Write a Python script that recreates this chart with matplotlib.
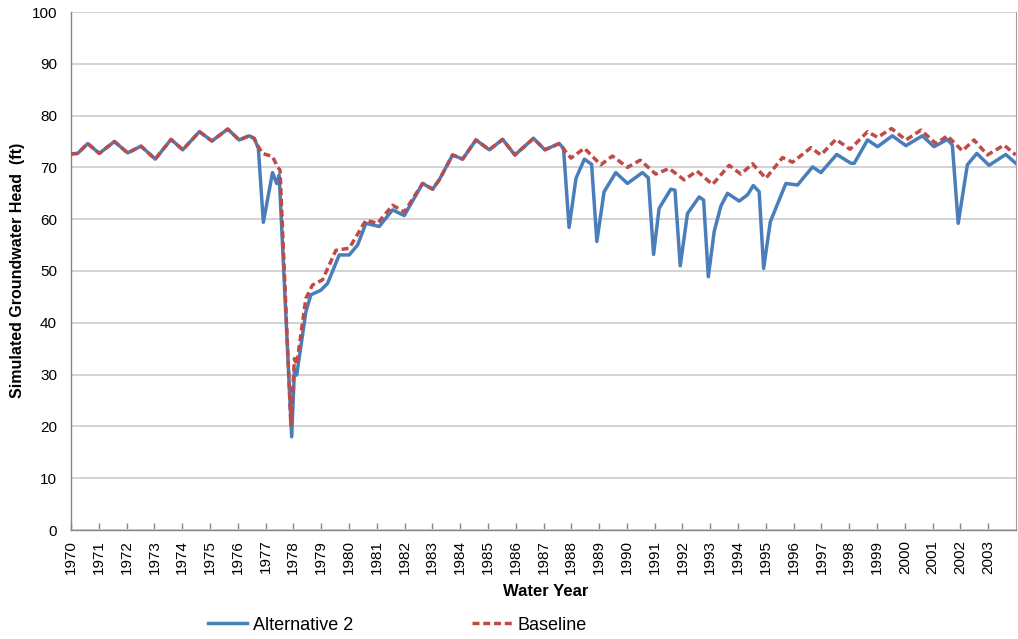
"""
Simulated groundwater head, Alternative 2 vs Baseline
"""

import matplotlib
matplotlib.use("Agg")
from matplotlib import pyplot as plt

# --- data (decimal water year, head in ft) ---
alt2_year = [
    1970.00, 1970.24, 1970.60, 1971.02, 1971.56, 1972.04, 1972.52, 1973.03,
    1973.60, 1974.02, 1974.62, 1975.07, 1975.64, 1976.05, 1976.41, 1976.59,
    1976.74, 1976.92, 1977.25, 1977.40, 1977.49, 1977.94, 1978.04, 1978.12,
    1978.45, 1978.63, 1978.99, 1979.23, 1979.65, 1980.01, 1980.31, 1980.61,
    1981.09, 1981.57, 1981.99, 1982.65, 1983.01, 1983.25, 1983.73, 1984.09,
    1984.57, 1985.05, 1985.53, 1985.97, 1986.64, 1987.05, 1987.56, 1987.72,
    1987.92, 1988.17, 1988.47, 1988.73, 1988.92, 1989.18, 1989.60, 1990.02,
    1990.56, 1990.77, 1990.96, 1991.16, 1991.58, 1991.73, 1991.92, 1992.18,
    1992.60, 1992.76, 1992.93, 1993.14, 1993.38, 1993.62, 1994.04, 1994.34,
    1994.55, 1994.76, 1994.92, 1995.16, 1995.72, 1996.14, 1996.68, 1996.98,
    1997.55, 1998.06, 1998.18, 1998.66, 1999.02, 1999.55, 2000.04, 2000.63,
    2001.05, 2001.53, 2001.71, 2001.92, 2002.25, 2002.59, 2003.03, 2003.63,
    2003.99]
alt2_head = [
    72.6, 72.7, 74.6, 72.7, 75.0, 72.8, 74.1, 71.6,
    75.4, 73.4, 76.9, 75.1, 77.4, 75.3, 76.1, 75.6,
    73.7, 59.4, 69.0, 66.9, 68.5, 18.0, 31.0, 29.9,
    42.1, 45.4, 46.3, 47.6, 53.1, 53.1, 55.0, 59.2,
    58.6, 61.8, 60.7, 66.9, 65.8, 67.6, 72.4, 71.6,
    75.3, 73.4, 75.4, 72.4, 75.6, 73.4, 74.6, 73.7,
    58.4, 67.9, 71.6, 70.6, 55.7, 65.3, 69.0, 66.9,
    69.0, 68.0, 53.2, 62.1, 65.8, 65.6, 51.0, 61.1,
    64.3, 63.7, 48.9, 57.6, 62.5, 65.0, 63.5, 64.7,
    66.5, 65.3, 50.5, 59.5, 66.9, 66.6, 70.1, 69.0,
    72.5, 70.8, 70.8, 75.3, 74.0, 76.1, 74.2, 76.1,
    74.0, 75.4, 74.3, 59.2, 70.5, 72.7, 70.4, 72.5,
    70.8]

base_year = [
    1970.00, 1970.24, 1970.60, 1971.02, 1971.56, 1972.04, 1972.52, 1973.03,
    1973.60, 1974.02, 1974.62, 1975.07, 1975.64, 1976.05, 1976.41, 1976.59,
    1976.74, 1976.89, 1977.25, 1977.43, 1977.52, 1977.91, 1978.04, 1978.12,
    1978.45, 1978.69, 1979.05, 1979.53, 1980.01, 1980.61, 1981.03, 1981.57,
    1981.99, 1982.65, 1983.01, 1983.25, 1983.73, 1984.09, 1984.57, 1985.05,
    1985.53, 1985.97, 1986.64, 1987.05, 1987.56, 1987.99, 1988.47, 1989.06,
    1989.48, 1990.02, 1990.48, 1991.04, 1991.52, 1992.06, 1992.52, 1993.08,
    1993.68, 1994.10, 1994.52, 1995.00, 1995.60, 1995.96, 1996.62, 1996.98,
    1997.52, 1998.03, 1998.66, 1999.02, 1999.52, 2000.04, 2000.58, 2001.12,
    2001.53, 2002.07, 2002.49, 2002.97, 2003.57, 2003.99]
base_head = [
    72.6, 72.7, 74.6, 72.7, 75.0, 72.8, 74.1, 71.6,
    75.4, 73.4, 76.9, 75.1, 77.4, 75.3, 76.1, 75.6,
    74.0, 72.7, 72.1, 70.1, 69.5, 20.3, 33.1, 31.9,
    44.7, 47.3, 48.3, 54.0, 54.4, 59.8, 59.2, 62.7,
    61.4, 66.9, 65.8, 67.6, 72.4, 71.6, 75.3, 73.4,
    75.4, 72.4, 75.6, 73.4, 74.6, 71.8, 73.7, 70.5,
    72.2, 70.0, 71.4, 68.7, 69.8, 67.6, 69.3, 66.7,
    70.4, 68.7, 70.7, 67.9, 71.9, 71.0, 73.8, 72.4,
    75.4, 73.5, 76.9, 75.8, 77.5, 75.3, 77.2, 74.6,
    76.1, 73.2, 75.3, 72.4, 74.3, 72.4]

tick_years = list(range(1970, 2004))
y_ticks = list(range(0, 101, 10))

COLOR_ALT = "#4a7ebb"
COLOR_BASE = "#be4b48"

plt.rcParams['font.family'] = ['Liberation Sans', 'DejaVu Sans']

fig = plt.figure(figsize=(10.18, 6.39), dpi=100)
ax = fig.add_axes([71 / 1018, 1 - 530 / 639, 945 / 1018, 518 / 639])

ax.plot(alt2_year, alt2_head, color=COLOR_ALT, linewidth=2.5,
        solid_joinstyle='round', label="Alternative 2", zorder=3)
ax.plot(base_year, base_head, color=COLOR_BASE, linewidth=2.5,
        dashes=(2.0, 1.1), label="Baseline", zorder=4)

ax.set_xlim(1970, 2004)
ax.set_ylim(0, 100)
ax.set_yticks(y_ticks)
ax.set_xticks(tick_years)
ax.set_xticklabels([str(y) for y in tick_years], rotation=90)

ax.yaxis.grid(True, color='#d0d0d0', linewidth=1.3, zorder=0)
ax.set_axisbelow(True)

for side in ['left', 'bottom']:
    ax.spines[side].set_color('#868686')
    ax.spines[side].set_linewidth(1.0)
ax.spines['top'].set_visible(False)
ax.spines['right'].set_color('#a0a0a0')

ax.tick_params(axis='x', direction='in', length=5, width=1.0,
               color='#868686', pad=7, labelsize=11)
ax.tick_params(axis='y', length=0, pad=10, labelsize=11)

fig.text(18 / 1018, 1 - 270 / 639, "Simulated Groundwater Head  (ft)",
         rotation=90, ha='center', va='center', fontsize=11.5,
         fontweight='bold')
fig.text(546 / 1018, 1 - 591 / 639, "Water Year", ha='center',
         va='center', fontsize=12, fontweight='bold')

fig.legend(loc='center', bbox_to_anchor=(397 / 1018, 1 - 625 / 639),
           ncol=2, frameon=False, fontsize=13, handlelength=2.2,
           handletextpad=0.3, columnspacing=6.6)

fig.savefig("out.png", dpi=100)
